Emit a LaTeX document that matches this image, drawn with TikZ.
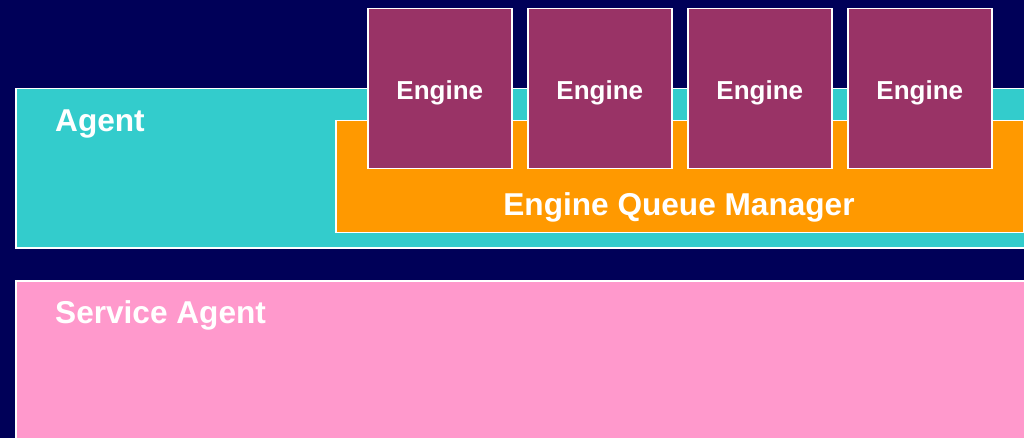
\documentclass[tikz,border=0pt]{standalone}
\usepackage{fontspec}
\setmainfont{Liberation Sans}
\definecolor{bgnavy}{HTML}{000058}
\definecolor{agentteal}{HTML}{33CCCC}
\definecolor{queueorange}{HTML}{FF9900}
\definecolor{enginepurple}{HTML}{993366}
\definecolor{servicepink}{HTML}{FF99CC}
\tikzset{
  layer/.style={draw=white, line width=1.5pt, rectangle, inner sep=0pt, anchor=north west},
  bigtext/.style={text=white, font=\bfseries\fontsize{31.6}{36}\selectfont, inner sep=0pt},
  enginetext/.style={text=white, font=\bfseries\fontsize{26}{30}\selectfont, inner sep=0pt, anchor=base},
  enginebox/.style={layer, fill=enginepurple, minimum width=144pt, minimum height=160pt},
}
\begin{document}
\begin{tikzpicture}[x=1pt, y=-1pt]
  \useasboundingbox (0,0) rectangle (1024,438);
  \clip (0,0) rectangle (1024,438);
  \fill[bgnavy] (0,0) rectangle (1024,438);

  % agent layer with its queue manager
  \node[layer, fill=agentteal, minimum width=1030pt, minimum height=159pt] (agent) at (15,88) {};
  \node[bigtext, anchor=base west] (agentlabel) at (55,132) {Agent};
  \node[layer, fill=queueorange, minimum width=688pt, minimum height=112pt] (queue) at (335,120) {};
  \node[bigtext, anchor=base] (queuelabel) at (679,215) {Engine Queue Manager};

  % engines sitting on the queue manager
  \foreach \i/\x in {1/367, 2/527, 3/687, 4/847} {
    \node[enginebox] (engine\i) at (\x,8) {};
    \node[enginetext] (enginelabel\i) at ([yshift=-92pt]engine\i.north) {Engine};
  }

  % service agent layer
  \node[layer, fill=servicepink, minimum width=1030pt, minimum height=180pt] (service) at (15,280) {};
  \node[bigtext, anchor=base west] (servicelabel) at (55,323) {Service Agent};
\end{tikzpicture}
\end{document}
